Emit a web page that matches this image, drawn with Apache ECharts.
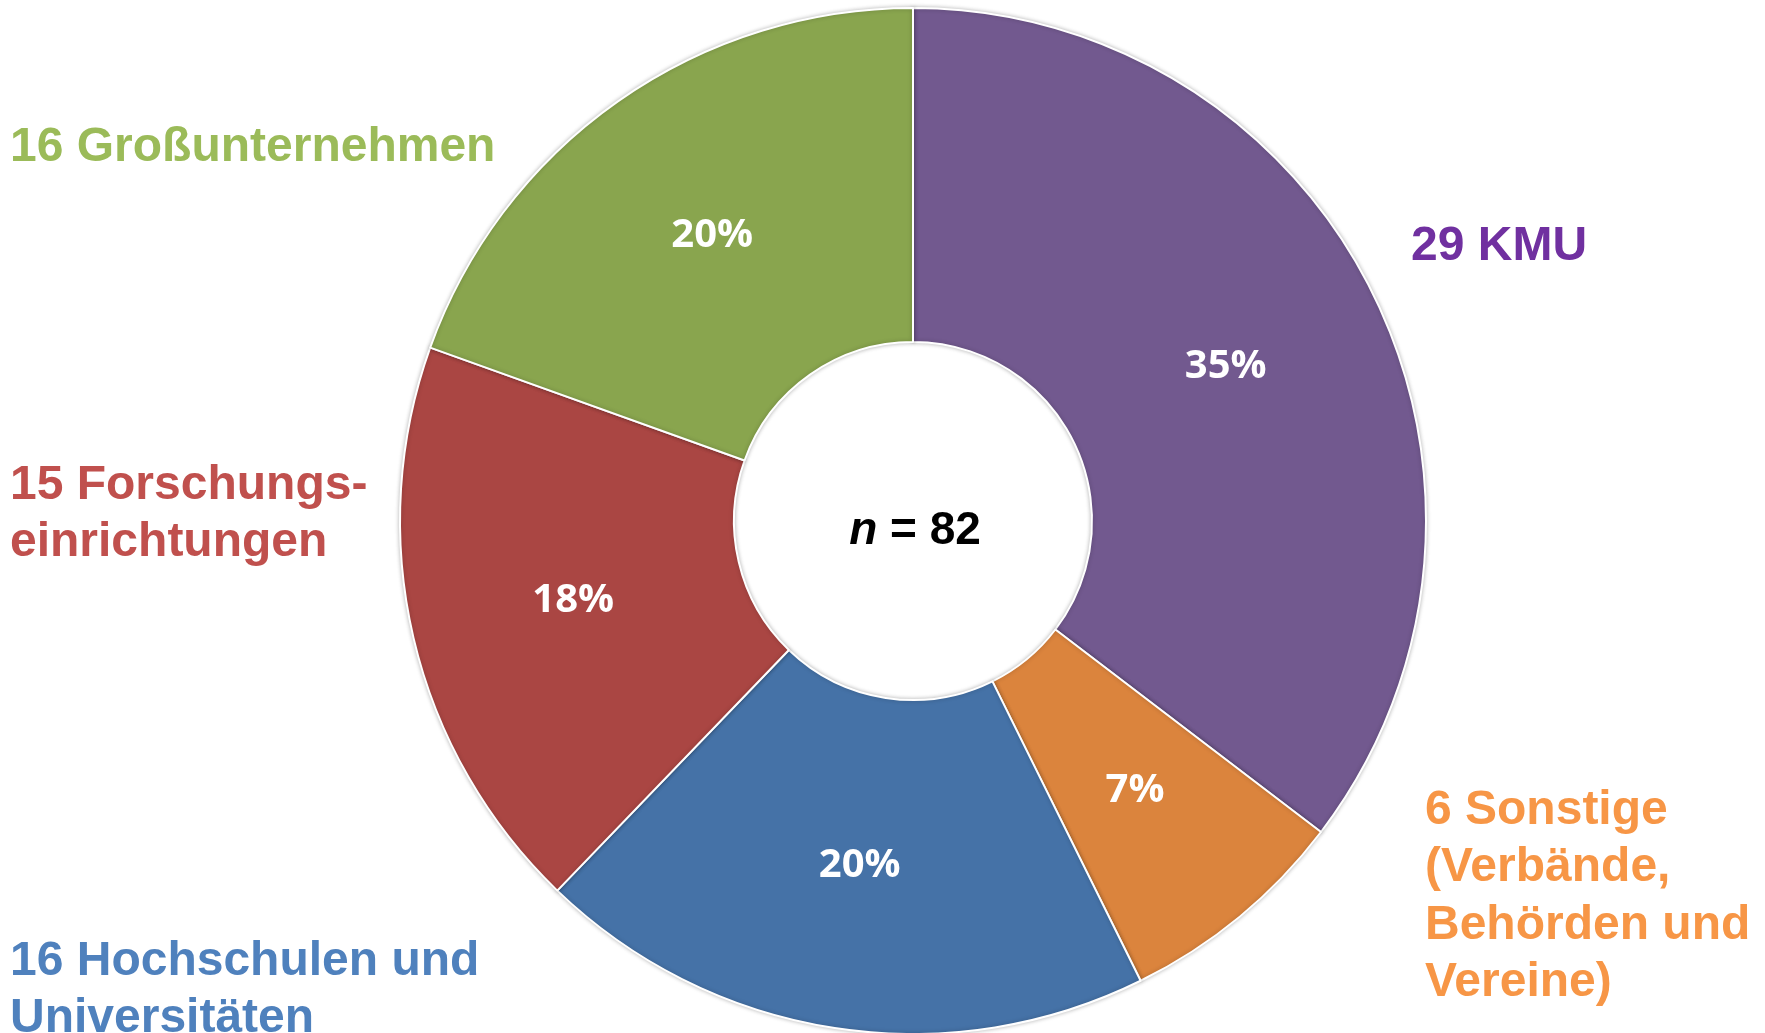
<!DOCTYPE html>
<html>
<head>
<meta charset="utf-8">
<script src="https://cdn.jsdelivr.net/npm/echarts@6/dist/echarts.min.js"></script>
<style>
  html, body { margin: 0; padding: 0; background: #fff; }
  #chart { width: 1765px; height: 1033px; }
</style>
</head>
<body>
<div id="chart"></div>
<script>
// Daten
const kategorien = ["KMU", "Sonstige", "Hochschulen", "Forschung", "Großunternehmen"];
const anzahl = [29, 6, 16, 15, 16];
const sliceFarben = ["#72598f", "#db843d", "#4572a7", "#aa4643", "#89a54e"];
const textFarben = ["#7030a0", "#f79646", "#4f81bd", "#c0504d", "#9bbb59"];
const beschriftungen = [
    "29 KMU",
    "6 Sonstige\n(Verbände,\nBehörden und\nVereine)",
    "16 Hochschulen und\nUniversitäten",
    "15 Forschungs-\neinrichtungen",
    "16 Großunternehmen"
];
// Position der Beschriftungen (links oben)
const labelPos = [[1411, 218], [1425, 782], [10, 933], [10, 457], [10, 119]];

const summe = anzahl.reduce((a, b) => a + b, 0);

const chart = echarts.init(document.getElementById("chart"));

const graphicTexte = beschriftungen.map((txt, i) => ({
    type: "text",
    left: labelPos[i][0],
    top: labelPos[i][1],
    style: {
        text: txt,
        fill: textFarben[i],
        fontFamily: "Liberation Sans",
        fontWeight: "bold",
        fontSize: 48,
        lineHeight: i === 1 ? 57.5 : 57
    }
}));

chart.setOption({
    animation: false,
    backgroundColor: "#fff",
    graphic: graphicTexte,
    title: {
        text: "{i|n}{b| = " + summe + "}",
        left: 910,
        top: 526,
        textAlign: "center",
        textVerticalAlign: "middle",
        textStyle: {
            rich: {
                i: { fontSize: 46, fontWeight: "bold", fontStyle: "italic", fontFamily: "Liberation Sans", color: "#000" },
                b: { fontSize: 46, fontWeight: "bold", fontFamily: "Liberation Sans", color: "#000" }
            }
        }
    },
    series: [{
        type: "pie",
        center: [913, 521],
        radius: [179, 513],
        startAngle: 90,
        clockwise: true,
        avoidLabelOverlap: false,
        itemStyle: {
            borderColor: "#fff",
            borderWidth: 2,
            shadowColor: "rgba(0,0,0,0.25)",
            shadowBlur: 4
        },
        label: {
            show: true,
            position: "inside",
            color: "#fff",
            fontFamily: "Open Sans",
            fontWeight: "bold",
            fontSize: 40,
            formatter: p => Math.round(p.value / summe * 100) + "%"
        },
        labelLine: { show: false },
        emphasis: { disabled: true },
        data: kategorien.map((k, i) => ({
            name: k,
            value: anzahl[i],
            itemStyle: { color: sliceFarben[i] }
        }))
    }]
});
</script>
</body>
</html>
